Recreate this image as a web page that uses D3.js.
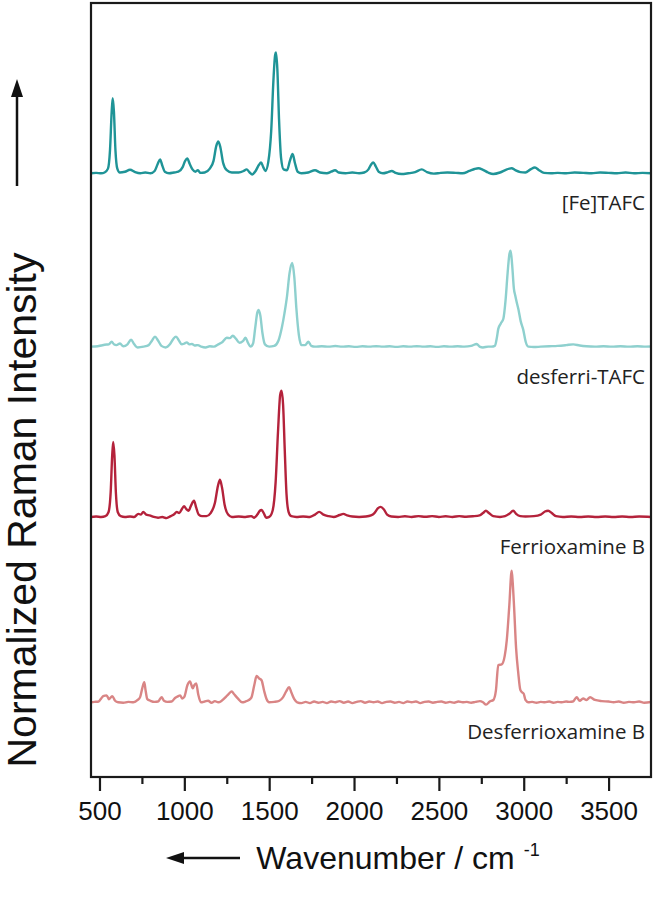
<!DOCTYPE html>
<html>
<head>
<meta charset="utf-8">
<script src="https://cdn.jsdelivr.net/npm/d3@7"></script>
<style>
  body { margin: 0; background: #fff; }
  .tick text { font-family: "Liberation Sans", Arial, sans-serif; }
</style>
</head>
<body>
<svg id="chart" width="657" height="899"></svg>
<script>
// wavenumber range and ticks
var wnDomain = [450, 3750];
var majorTicks = [500, 1000, 1500, 2000, 2500, 3000, 3500];
var minorTicks = [750, 1250, 1750, 2250, 2750, 3250];

var seriesNames = ["[Fe]TAFC", "desferri-TAFC", "Ferrioxamine B", "Desferrioxamine B"];
var seriesColors = ["#1f9497", "#8ed0ce", "#b4223b", "#d98585"];
// vertical stacking offset of each spectrum (same units as intensity)
var offsets = [78.0, 55.6, 33.6, 9.65];

// [wavenumber, intensity]
var feTafc = [[450,0],[480,0.05],[510,0],[530,0.1],[550,0.6],[562,3.0],[572,8.0],[578,9.7],[585,8.0],[594,3.0],[605,0.6],[620,0.1],
  [650,0.2],[680,0.45],[710,0.15],[740,0],[770,0.1],[800,0],[825,0.3],[843,1.2],[857,1.8],[870,1.0],[885,0.2],[910,0],[940,0.1],
  [965,0.2],[990,0.8],[1005,1.6],[1017,1.9],[1032,1.2],[1048,0.5],[1065,0.2],[1080,0.4],[1095,0.05],[1120,0.1],[1150,0.6],
  [1172,1.6],[1188,3.5],[1200,4.1],[1212,3.4],[1228,1.4],[1250,0.4],[1280,0.1],[1320,0.1],[1350,0.3],[1367,0.5],[1385,0.1],
  [1400,-0.15],[1420,0.3],[1440,1.1],[1452,1.4],[1465,0.8],[1478,0.3],[1495,1.5],[1512,5.5],[1525,12.0],[1535,15.3],[1540,15.6],
  [1548,13.5],[1558,7.0],[1570,2.0],[1585,0.5],[1605,0.4],[1622,1.6],[1638,2.5],[1652,1.3],[1668,0.2],[1690,0],[1730,0.1],
  [1770,0.4],[1800,0.1],[1840,0],[1865,0.2],[1888,0.4],[1910,0.1],[1950,0],[1990,0.1],[2030,0],[2060,0.1],[2085,0.5],[2100,1.1],
  [2113,1.4],[2128,0.9],[2145,0.2],[2170,0],[2200,0.15],[2222,0.3],[2245,0.05],[2280,-0.1],[2320,0],[2360,0.15],[2399,0.5],
  [2430,0.15],[2470,-0.05],[2510,0.05],[2550,0.1],[2600,0.05],[2640,0],[2680,0.3],[2710,0.55],[2733,0.65],[2760,0.45],[2790,0.1],
  [2820,-0.1],[2860,0.1],[2895,0.45],[2915,0.6],[2929,0.65],[2950,0.4],[2980,0.15],[3010,0.1],[3040,0.5],[3066,0.75],[3090,0.4],
  [3120,0.05],[3160,0],[3200,0.05],[3250,0],[3300,0.1],[3350,0.05],[3400,0],[3450,0.1],[3500,0.05],[3550,0],[3600,0.1],
  [3650,0],[3700,0.05],[3750,0]];

var desferriTafc = [[450,0],[490,0.05],[510,0.15],[530,0.25],[555,0.3],[572,0.65],[585,0.3],[600,0.2],[621,0.4],[640,0.05],
  [665,0.3],[686,0.9],[705,0.3],[725,-0.1],[760,0],[790,0.2],[810,0.8],[827,1.3],[845,0.8],[865,0.1],[890,-0.1],[915,0.3],
  [935,1.0],[951,1.3],[968,0.8],[985,0.3],[1000,0.4],[1014,0.55],[1030,0.3],[1045,0.35],[1060,0.15],[1080,0.2],[1100,0],
  [1125,-0.1],[1150,0.05],[1175,0],[1200,0.3],[1225,0.6],[1250,1.15],[1268,1.1],[1285,1.4],[1305,1.0],[1325,0.5],[1345,0.7],
  [1361,1.15],[1375,0.5],[1390,0],[1405,0.4],[1418,2.5],[1430,4.4],[1438,4.75],[1448,4.0],[1460,1.8],[1475,0.3],[1500,0],
  [1530,0.1],[1555,0.8],[1575,2.5],[1590,4.3],[1605,6.5],[1620,9.5],[1636,10.8],[1648,9.0],[1660,5.0],[1675,1.5],[1690,0.2],
  [1712,0.2],[1731,0.65],[1748,0.1],[1770,0],[1810,0.05],[1850,0],[1890,0.08],[1930,0],[1970,0.05],[2010,-0.03],[2050,0.05],
  [2090,0],[2130,0.06],[2170,0],[2210,0.05],[2250,-0.03],[2290,0.05],[2330,0],[2370,0.06],[2410,0],[2450,0.05],[2490,-0.03],
  [2530,0.05],[2570,0],[2610,0.05],[2650,0],[2690,0.1],[2723,0.35],[2740,0],[2760,-0.1],[2790,0],[2810,0],[2830,0.1],
  [2842,1.2],[2850,2.3],[2865,3.0],[2880,3.6],[2893,6.0],[2905,9.5],[2916,12.0],[2923,12.4],[2932,10.5],[2942,7.5],[2950,6.6],
  [2960,5.6],[2968,4.9],[2982,3.3],[2997,2.2],[3012,0.6],[3027,0],[3060,-0.05],[3100,0],[3150,0.05],[3200,0.1],[3250,0.2],
  [3292,0.3],[3330,0.15],[3370,0.05],[3420,0],[3470,0.05],[3520,0],[3570,0.05],[3620,0],[3670,0.05],[3720,0],[3750,0.02]];

var ferrioxamineB = [[450,0],[480,0.05],[510,0],[535,0.1],[553,0.6],[566,3.2],[575,8.0],[581,9.7],[588,8.0],[597,3.0],[608,0.6],
  [625,0.1],[650,0],[680,0.05],[705,0],[729,0.4],[744,0.3],[758,0.65],[775,0.3],[795,0.2],[820,0],[845,-0.1],[870,0],
  [895,-0.15],[920,0.1],[940,0.35],[955,0.65],[970,0.5],[985,1.0],[998,1.4],[1012,1.0],[1025,0.8],[1040,1.5],[1057,2.1],
  [1070,1.2],[1085,0.3],[1105,0.1],[1130,0.1],[1155,0.5],[1180,1.8],[1198,4.0],[1210,4.8],[1222,3.8],[1238,1.5],[1258,0.3],
  [1280,0],[1320,0.05],[1360,0],[1395,0.1],[1410,-0.1],[1430,0.3],[1445,0.8],[1455,0.9],[1470,0.4],[1482,-0.1],[1500,0],
  [1520,0.8],[1538,4.5],[1552,11.0],[1565,15.8],[1573,16.3],[1582,14.5],[1592,8.5],[1602,3.0],[1615,0.6],[1630,0.1],[1660,0],
  [1700,0.05],[1740,0],[1770,0.3],[1795,0.65],[1820,0.3],[1850,0.1],[1880,0],[1915,0.25],[1937,0.4],[1960,0.2],[1990,0.05],
  [2030,0],[2070,0.05],[2100,0.2],[2120,0.5],[2140,1.1],[2157,1.3],[2175,1.0],[2195,0.3],[2220,0.05],[2260,0],[2300,0.08],
  [2340,0],[2380,0.1],[2420,0.02],[2460,0.1],[2500,0],[2540,0.08],[2580,0],[2620,0.1],[2660,0.02],[2700,0.08],[2740,0.2],
  [2760,0.5],[2777,0.8],[2795,0.5],[2820,0.1],[2860,0],[2890,0.1],[2915,0.4],[2938,0.8],[2955,0.4],[2980,0.1],[3010,0.05],
  [3060,0.1],[3100,0.3],[3125,0.7],[3144,0.8],[3165,0.5],[3190,0.1],[3230,0],[3280,0.05],[3330,0],[3380,0.05],[3430,0],
  [3480,0.05],[3530,0],[3580,0.05],[3630,0],[3680,0.05],[3750,0]];

var desferrioxamineB = [[450,0],[470,0.05],[495,0.1],[510,0.5],[522,0.8],[542,0.9],[556,0.4],[575,0.8],[592,0.2],[610,0],
  [640,-0.05],[670,0.05],[700,0],[725,0.3],[740,0.7],[752,1.8],[764,2.6],[772,1.5],[782,0.4],[800,0.2],[825,0.05],[845,0.1],
  [866,0.65],[880,0.2],[900,0.05],[925,0.1],[945,0.55],[965,0.8],[975,0.9],[988,0.5],[1000,0.7],[1018,2.2],[1033,2.7],
  [1050,1.8],[1058,2.2],[1070,2.45],[1082,1.0],[1098,0],[1120,0.1],[1140,0.2],[1160,-0.05],[1180,0.15],[1200,0],[1220,0.2],
  [1245,0.7],[1262,1.1],[1279,1.4],[1295,1.0],[1315,0.5],[1340,0],[1360,0.1],[1380,0.3],[1395,0.6],[1412,2.2],[1426,3.4],
  [1440,3.1],[1455,2.85],[1470,1.5],[1485,0.4],[1500,0],[1530,0.05],[1560,0.2],[1580,0.6],[1600,1.4],[1617,1.95],[1632,1.2],
  [1648,0.4],[1665,0],[1690,-0.1],[1715,0.05],[1740,-0.1],[1765,0.1],[1790,-0.05],[1815,0.05],[1840,-0.1],[1865,0.1],
  [1890,0],[1915,0.15],[1940,-0.05],[1965,0.1],[1990,-0.1],[2015,0.05],[2040,0.15],[2065,-0.05],[2090,0.1],[2115,0],
  [2140,0.1],[2165,-0.1],[2190,0.05],[2215,0.1],[2240,-0.05],[2265,0.05],[2290,-0.1],[2315,0.1],[2340,0],[2365,0.1],
  [2390,-0.1],[2415,0.05],[2440,0.1],[2465,-0.05],[2490,0.05],[2515,0.1],[2540,-0.05],[2565,0.05],[2590,-0.05],[2615,0.1],
  [2640,0],[2665,0.05],[2690,-0.05],[2715,0.05],[2742,0.15],[2760,0],[2778,-0.3],[2800,0.1],[2821,0.3],[2836,1.5],[2850,4.8],
  [2870,4.9],[2888,6.0],[2900,8.0],[2915,12.5],[2929,17.0],[2935,15.5],[2943,12.4],[2955,7.0],[2968,3.75],[2980,1.6],
  [2990,1.3],[3000,1.1],[3010,0.3],[3027,0],[3050,0.05],[3075,-0.05],[3100,0.05],[3125,0],[3150,0.1],[3175,-0.05],[3200,0.05],
  [3225,0],[3250,0.1],[3270,0.05],[3290,0.1],[3312,0.65],[3330,0.2],[3350,0.5],[3370,0.3],[3391,0.65],[3420,0.3],[3460,0.15],
  [3500,0.1],[3530,0],[3560,0.1],[3590,-0.05],[3620,0.05],[3650,0],[3680,0.1],[3710,-0.05],[3750,0.05]];

var spectra = [feTafc, desferriTafc, ferrioxamineB, desferrioxamineB];

var svg = d3.select("#chart");
var margin = {top: 3, right: 6, bottom: 122, left: 91};
var width = +svg.attr("width") - margin.left - margin.right,
    height = +svg.attr("height") - margin.top - margin.bottom;

var g = svg.append("g").attr("transform", "translate(" + margin.left + "," + margin.top + ")");

var x = d3.scaleLinear().domain(wnDomain).range([0, width]);
var y = d3.scaleLinear().domain([0, 100]).range([height, 0]);

g.append("clipPath").attr("id", "clip")
  .append("rect").attr("width", width).attr("height", height);

var plot = g.append("g").attr("clip-path", "url(#clip)");

spectra.forEach(function(data, i) {
  var line = d3.line()
    .x(function(d) { return x(d[0]); })
    .y(function(d) { return y(d[1] + offsets[i]); })
    .curve(d3.curveMonotoneX);

  plot.append("path")
    .datum(data)
    .attr("fill", "none")
    .attr("stroke", seriesColors[i])
    .attr("stroke-width", 2.4)
    .attr("stroke-linejoin", "round")
    .attr("d", line);

  g.append("text")
    .attr("x", width - 6)
    .attr("y", y(offsets[i]) + 37)
    .attr("text-anchor", "end")
    .style("font-family", "'Open Sans', sans-serif")
    .style("font-size", "20.5px")
    .style("fill", "#222")
    .text(seriesNames[i]);
});

// x axis: major + minor ticks below the frame
var xAxis = d3.axisBottom(x).tickValues(majorTicks).tickSize(14).tickPadding(11).tickFormat(d3.format("d"));
var xMinor = d3.axisBottom(x).tickValues(minorTicks).tickSize(7).tickFormat("");

var ax = g.append("g").attr("transform", "translate(0," + height + ")").call(xAxis);
var axm = g.append("g").attr("transform", "translate(0," + height + ")").call(xMinor);
[ax, axm].forEach(function(a) {
  a.select(".domain").remove();
  a.selectAll("line").attr("stroke", "#1a1a1a").attr("stroke-width", 2.2);
});
ax.selectAll("text").style("font-size", "26px").style("fill", "#111");

// frame
g.append("rect")
  .attr("width", width).attr("height", height)
  .attr("fill", "none").attr("stroke", "#1a1a1a").attr("stroke-width", 2.2);

// axis titles with arrows
var titleFont = "'Liberation Sans', Arial, sans-serif";

var xt = svg.append("text")
  .attr("x", 398).attr("y", 869)
  .attr("text-anchor", "middle")
  .style("font-family", titleFont).style("font-size", "32px").style("fill", "#111");
xt.append("tspan").text("Wavenumber / cm ");
xt.append("tspan").attr("dy", -13).style("font-size", "18px").text("-1");

svg.append("line").attr("x1", 240).attr("x2", 180).attr("y1", 858).attr("y2", 858)
  .attr("stroke", "#111").attr("stroke-width", 2.5);
svg.append("path").attr("d", "M166,858 L184,852 L184,864 Z").attr("fill", "#111");

svg.append("text")
  .attr("transform", "translate(36,510) rotate(-90)")
  .attr("text-anchor", "middle")
  .style("font-family", titleFont).style("font-size", "41px").style("fill", "#111")
  .text("Normalized Raman Intensity");

svg.append("line").attr("x1", 17).attr("x2", 17).attr("y1", 186).attr("y2", 95)
  .attr("stroke", "#111").attr("stroke-width", 2.5);
svg.append("path").attr("d", "M17,79 L11,97 L23,97 Z").attr("fill", "#111");
</script>
</body>
</html>
